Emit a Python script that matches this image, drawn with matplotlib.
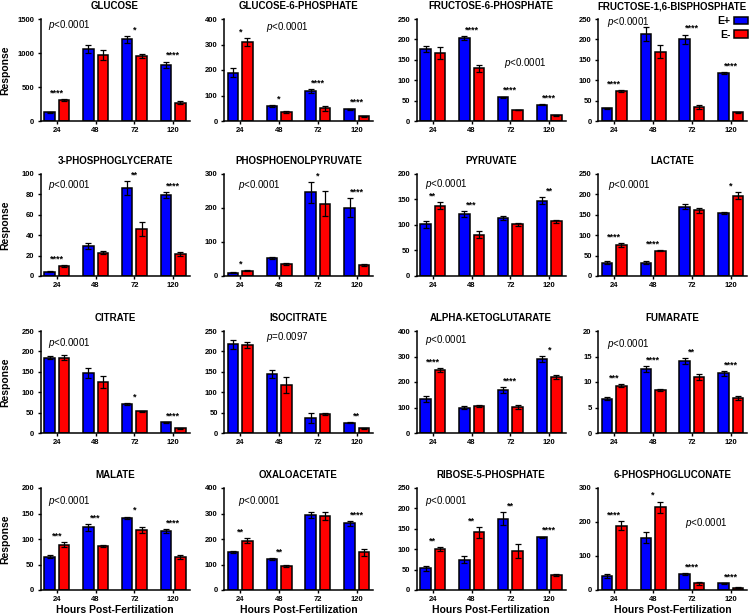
import matplotlib
matplotlib.use("Agg")
import matplotlib.pyplot as plt
from matplotlib.patches import Patch
import numpy as np

# ---------------- DATA ----------------
hours = ["24", "48", "72", "120"]

titles = [
    "GLUCOSE", "GLUCOSE-6-PHOSPHATE", "FRUCTOSE-6-PHOSPHATE", "FRUCTOSE-1,6-BISPHOSPHATE",
    "3-PHOSPHOGLYCERATE", "PHOSPHOENOLPYRUVATE", "PYRUVATE", "LACTATE",
    "CITRATE", "ISOCITRATE", "ALPHA-KETOGLUTARATE", "FUMARATE",
    "MALATE", "OXALOACETATE", "RIBOSE-5-PHOSPHATE", "6-PHOSPHOGLUCONATE",
]

# E+ means / SEM
e_plus = [
    [130, 1060, 1200, 830], [190, 60, 118, 47], [177, 203, 58, 40], [31, 213, 200, 117],
    [4, 29, 86, 79], [10, 53, 246, 201], [101, 121, 114, 148], [33, 33, 170, 154],
    [185, 147, 71, 26], [217, 144, 37, 25], [133, 100, 167, 289], [6.75, 12.5, 14.1, 11.7],
    [65, 123, 142, 115], [150, 121, 295, 262], [53, 74, 175, 129], [40, 154, 47, 20],
]
e_plus_sem = [
    [5, 60, 50, 45], [18, 4, 8, 2], [7, 5, 2, 2], [1, 17, 12, 2],
    [0.5, 3, 7, 3], [1, 4, 30, 27], [7, 6, 4, 7], [3, 3, 6, 3],
    [3, 12, 2, 1], [10, 10, 12, 1], [12, 5, 12, 12], [0.3, 0.6, 0.6, 0.5],
    [3, 7, 2, 4], [3, 3, 12, 10], [6, 9, 15, 2], [6, 17, 3, 1],
]
# E- means / SEM
e_minus = [
    [310, 970, 960, 270], [310, 35, 50, 18], [167, 129, 27, 14], [74, 170, 35, 21],
    [9.5, 23, 46, 22], [16, 34, 213, 31], [138, 81, 101, 107], [76, 62, 161, 197],
    [185, 125, 53, 12], [216, 117, 46, 12], [248, 106, 102, 219], [9.3, 8.5, 11.0, 6.8],
    [88.5, 87, 117, 64], [194, 95, 291, 148], [101, 141, 96, 37], [189, 243, 20, 7],
]
e_minus_sem = [
    [12, 75, 30, 20], [15, 5, 10, 2], [14, 9, 1, 1], [2, 16, 5, 2],
    [1, 1.5, 7, 2], [1, 3, 37, 3], [7, 7, 3, 3], [5, 1, 6, 8],
    [5, 15, 2, 1], [8, 20, 3, 1], [8, 4, 7, 7], [0.3, 0.2, 0.6, 0.4],
    [5, 2, 6, 4], [8, 3, 16, 13], [5, 14, 17, 3], [13, 17, 4, 1],
]

stars = [
    ["****", "", "*", "****"], ["*", "*", "****", "****"], ["", "****", "****", "****"], ["****", "", "****", "****"],
    ["****", "", "**", "****"], ["*", "", "*", "****"], ["**", "***", "", "**"], ["****", "****", "", "*"],
    ["", "", "*", "****"], ["", "", "", "**"], ["****", "", "****", "*"], ["***", "****", "**", "****"],
    ["***", "***", "*", "****"], ["**", "**", "", "****"], ["**", "**", "**", "****"], ["****", "*", "****", "****"],
]

p_labels = ["<0.0001"] * 16
p_labels[9] = "=0.0097"

y_max = [1500, 400, 250, 250, 100, 300, 200, 250, 250, 250, 400, 20, 200, 400, 250, 300]
y_step = [500, 100, 50, 50, 20, 100, 50, 50, 50, 50, 100, 5, 50, 100, 50, 100]

# ---------------- LAYOUT ----------------
# p-value label position (axes fraction, left edge / vertical centre)
p_pos = [
    (0.05, 0.94), (0.28, 0.92), (0.585, 0.57), (0.06, 0.97),
    (0.05, 0.89), (0.095, 0.89), (0.055, 0.9), (0.065, 0.89),
    (0.05, 0.88), (0.28, 0.94), (0.055, 0.91), (0.06, 0.87),
    (0.05, 0.875), (0.095, 0.875), (0.055, 0.875), (0.585, 0.66),
]

W, H = 750, 615
col_left = [40.5, 224, 416.5, 598]
row_top = [19, 174, 331, 488]
ax_w, ax_h = 149, 102

BLUE = "#0000FF"
RED = "#FF0000"
FONT = "Liberation Sans"

plt.rcParams["font.family"] = [FONT, "DejaVu Sans"]
plt.rcParams["mathtext.fontset"] = "custom"
plt.rcParams["mathtext.it"] = FONT + ":italic"
plt.rcParams["mathtext.rm"] = FONT

fig = plt.figure(figsize=(W / 100, H / 100), dpi=100)

x = np.arange(len(hours))
bw = 0.27
off = 0.185

for i, title in enumerate(titles):
    r, c = divmod(i, 4)
    ax = fig.add_axes([col_left[c] / W, 1 - (row_top[r] + ax_h) / H, ax_w / W, ax_h / H])

    err_kw = dict(ecolor="black", elinewidth=0.9, capsize=2.2, capthick=0.9, zorder=3)
    ax.bar(x - off, e_plus[i], bw, yerr=e_plus_sem[i], color=BLUE,
           edgecolor="black", linewidth=1.1, error_kw=err_kw, zorder=2)
    ax.bar(x + off, e_minus[i], bw, yerr=e_minus_sem[i], color=RED,
           edgecolor="black", linewidth=1.1, error_kw=err_kw, zorder=2)

    ymax = y_max[i]
    for j, s in enumerate(stars[i]):
        if not s:
            continue
        top = max(e_plus[i][j] + e_plus_sem[i][j], e_minus[i][j] + e_minus_sem[i][j])
        ax.text(x[j], top + 0.035 * ymax, s, ha="center", va="baseline",
                fontsize=6.5, fontweight="bold")

    ax.text(p_pos[i][0], p_pos[i][1], "$p$" + p_labels[i], transform=ax.transAxes,
            ha="left", va="center", fontsize=7)

    ax.set_xlim(-0.42, 3.42)
    ax.set_ylim(0, ymax)
    ax.set_yticks(np.arange(0, ymax + y_step[i] / 2, y_step[i]))
    ax.set_xticks(x)
    ax.set_xticklabels(hours)
    ax.spines["top"].set_visible(False)
    ax.spines["right"].set_visible(False)
    for sp in ("left", "bottom"):
        ax.spines[sp].set_linewidth(1.1)
    ax.tick_params(axis="both", direction="out", length=2.5, width=1.0,
                   labelsize=5.5, pad=2)
    ax.tick_params(axis="x", pad=1.5)
    for lab in ax.get_xticklabels() + ax.get_yticklabels():
        lab.set_fontweight("bold")

    ax.set_title(title, fontsize=7, fontweight="bold", pad=7)

    if c == 0:
        ax.set_ylabel("Response", fontsize=7.5, fontweight="bold")
        ax.yaxis.set_label_coords(-0.2, 0.5)
    if r == 3:
        ax.set_xlabel("Hours Post-Fertilization", fontsize=7.5, fontweight="bold", labelpad=1.5)

handles = [Patch(facecolor=BLUE, edgecolor="black", linewidth=1.1, label="E+"),
           Patch(facecolor=RED, edgecolor="black", linewidth=1.1, label="E-")]
fig.legend(handles=handles, loc="upper right", bbox_to_anchor=(749 / W, 1 - 15 / H),
           markerfirst=False, frameon=False, handlelength=1.3, handleheight=0.75,
           handletextpad=0.4, labelspacing=0.35, borderpad=0.1, borderaxespad=0,
           prop={"family": FONT, "weight": "bold", "size": 7.5})

fig.savefig("out.png", dpi=100)
